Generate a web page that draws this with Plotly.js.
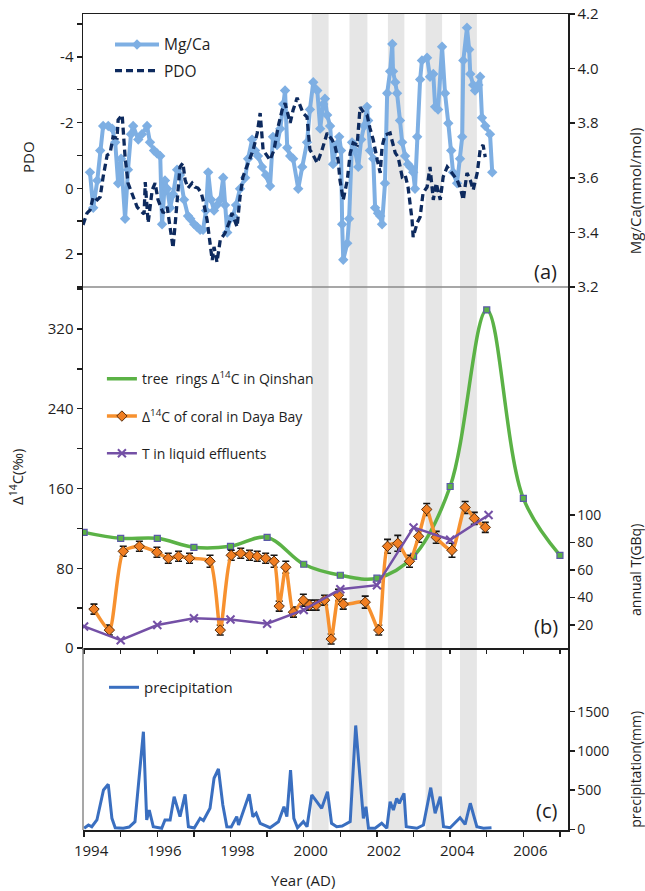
<!DOCTYPE html>
<html><head><meta charset="utf-8">
<script src="https://cdn.plot.ly/plotly-3.0.1.min.js"></script>
<style>html,body{margin:0;padding:0;background:#fff}#chart{width:645px;height:891px}</style>
</head><body><div id="chart"></div>
<script>
// ---------- data ----------
const mgcaYear = [1994.16,1994.25,1994.36,1994.44,1994.52,1994.66,1994.77,1994.85,1994.93,1995.01,1995.12,1995.20,1995.28,1995.34,1995.48,1995.58,1995.72,1995.80,1995.91,1995.99,1996.08,1996.13,1996.21,1996.27,1996.35,1996.43,1996.54,1996.62,1996.73,1996.84,1996.90,1997.01,1997.09,1997.17,1997.25,1997.33,1997.39,1997.47,1997.55,1997.63,1997.72,1997.80,1997.85,1997.91,1997.99,1998.07,1998.15,1998.26,1998.40,1998.48,1998.59,1998.67,1998.75,1998.86,1998.97,1999.08,1999.16,1999.27,1999.36,1999.44,1999.49,1999.55,1999.63,1999.71,1999.85,1999.96,2000.09,2000.17,2000.26,2000.37,2000.45,2000.53,2000.58,2000.64,2000.72,2000.80,2000.89,2000.97,2001.02,2001.05,2001.08,2001.19,2001.24,2001.32,2001.40,2001.49,2001.57,2001.65,2001.73,2001.76,2001.81,2001.90,2001.95,2002.03,2002.09,2002.14,2002.22,2002.28,2002.36,2002.42,2002.44,2002.50,2002.55,2002.63,2002.69,2002.77,2002.85,2002.91,2002.99,2003.04,2003.10,2003.18,2003.23,2003.37,2003.45,2003.54,2003.59,2003.67,2003.78,2003.86,2003.95,2004.03,2004.08,2004.19,2004.27,2004.33,2004.36,2004.46,2004.52,2004.55,2004.63,2004.68,2004.77,2004.82,2004.87,2004.96,2005.09,2005.15];
const mgcaValue = [3.62,3.49,3.59,3.70,3.79,3.79,3.78,3.73,3.58,3.67,3.45,3.63,3.76,3.79,3.74,3.76,3.79,3.73,3.70,3.69,3.68,3.43,3.59,3.56,3.49,3.54,3.63,3.61,3.52,3.46,3.45,3.43,3.42,3.41,3.41,3.48,3.62,3.52,3.48,3.50,3.52,3.60,3.50,3.40,3.45,3.46,3.50,3.56,3.60,3.67,3.74,3.70,3.68,3.64,3.61,3.57,3.75,3.72,3.78,3.87,3.92,3.71,3.68,3.67,3.56,3.64,3.73,3.85,3.95,3.92,3.78,3.87,3.89,3.83,3.79,3.65,3.72,3.75,3.70,3.43,3.30,3.36,3.45,3.73,3.70,3.64,3.74,3.79,3.86,3.81,3.70,3.67,3.49,3.47,3.46,3.43,3.58,3.91,3.99,4.09,3.99,3.95,3.91,3.81,3.73,3.68,3.65,3.64,3.62,3.56,3.75,3.96,4.03,4.04,3.97,3.98,3.86,3.85,4.08,3.91,3.80,3.70,3.62,3.58,3.67,3.75,4.03,4.15,4.07,3.98,3.94,3.92,3.94,3.97,3.82,3.79,3.76,3.62];

const pdoYear = [1993.97,1994.08,1994.16,1994.25,1994.36,1994.44,1994.52,1994.63,1994.71,1994.79,1994.90,1994.93,1995.04,1995.12,1995.20,1995.31,1995.45,1995.58,1995.64,1995.67,1995.75,1995.86,1995.94,1996.02,1996.16,1996.27,1996.35,1996.43,1996.51,1996.62,1996.70,1996.76,1996.84,1996.95,1997.03,1997.11,1997.20,1997.25,1997.36,1997.44,1997.50,1997.55,1997.63,1997.72,1997.85,1997.99,1998.04,1998.18,1998.26,1998.34,1998.48,1998.62,1998.73,1998.81,1998.89,1999.00,1999.08,1999.19,1999.30,1999.41,1999.49,1999.63,1999.71,1999.82,1999.90,1999.98,2000.09,2000.17,2000.23,2000.37,2000.50,2000.64,2000.78,2000.86,2000.94,2000.99,2001.08,2001.19,2001.27,2001.35,2001.46,2001.54,2001.65,2001.73,2001.81,2001.90,2002.01,2002.09,2002.14,2002.22,2002.36,2002.50,2002.58,2002.69,2002.77,2002.85,2002.96,2002.99,2003.10,2003.18,2003.26,2003.37,2003.45,2003.54,2003.62,2003.73,2003.81,2003.92,2004.05,2004.19,2004.27,2004.36,2004.46,2004.55,2004.63,2004.74,2004.82,2004.90,2004.96];
const pdoValue = [1.11,0.75,0.66,0.26,0.35,0.26,-0.35,-1.01,-1.07,-1.56,-1.53,-2.08,-2.23,-0.95,-0.16,0.14,0.57,0.72,0.78,-0.19,1.05,0.05,-0.16,0.35,0.75,0.57,1.17,1.81,0.81,-0.65,-0.77,-0.25,-0.01,-0.16,-0.04,-0.01,0.14,0.35,0.96,1.57,2.18,1.78,2.24,1.57,1.36,0.96,0.75,1.17,0.26,-0.35,-0.77,-1.17,-1.68,-2.29,-1.17,-1.01,-0.86,-1.17,-1.87,-2.38,-2.59,-1.99,-2.38,-2.75,-2.53,-2.29,-2.17,-1.17,-1.07,-0.77,-1.17,-1.68,-1.47,-1.26,-0.86,-0.25,0.35,-0.25,-1.07,-1.38,-1.32,-2.47,-2.29,-2.23,-1.83,-1.47,-0.86,-0.47,-1.26,-1.62,-1.68,-1.08,-0.95,-0.35,-0.41,-0.04,0.96,1.48,1.05,0.87,0.14,-0.04,-0.65,0.35,-0.16,0.35,-0.35,-0.65,-0.47,-0.25,-0.04,0.35,-0.47,-0.25,0.05,-0.47,-1.17,-1.32,-0.95];

const treeYear = [1994,1995,1996,1997,1998,1999,2000,2001,2002,2003,2004,2005,2006,2007];
const treeValue = [116,110,110,101,102,111,84,73,70,92,162,339,150,93];

const coralYear = [1994.27,1994.69,1995.07,1995.51,1995.99,1996.30,1996.58,1996.88,1997.44,1997.72,1998.02,1998.28,1998.52,1998.73,1998.96,1999.19,1999.33,1999.51,1999.72,1999.99,2000.16,2000.34,2000.57,2000.75,2000.95,2001.08,2001.68,2002.05,2002.29,2002.57,2002.89,2003.14,2003.36,2003.62,2004.05,2004.41,2004.66,2004.96];
const coralValue = [39,18,97,102,96,90,92,90,87,18,93,95,93,92,90,87,42,81,36,48,43,43,48,9,53,44,46,18,102,105,87,112,139,111,98,141,130,121];
const coralError = [5,5,5,5,5,5,5,5,6,5,5,5,5,5,5,6,5,6,5,6,5,5,5,5,6,5,6,5,7,8,6,6,6,6,7,6,6,5];

const tritiumYear = [1994,1995,1996,1997,1998,1999,2000,2001,2002,2003,2004,2005.05];
const tritiumValue = [19,9,20,25,24,21,31,46,49,91,82,100];

const precipYear = [1994.00,1994.12,1994.21,1994.35,1994.53,1994.66,1994.76,1994.85,1995.07,1995.23,1995.39,1995.62,1995.71,1995.78,1995.89,1996.12,1996.21,1996.35,1996.46,1996.62,1996.76,1996.85,1997.01,1997.17,1997.26,1997.44,1997.55,1997.67,1997.79,1997.90,1998.02,1998.17,1998.22,1998.35,1998.51,1998.61,1998.70,1998.81,1999.08,1999.31,1999.46,1999.54,1999.64,1999.73,1999.83,1999.99,2000.09,2000.22,2000.49,2000.65,2000.76,2000.90,2001.05,2001.27,2001.42,2001.63,2001.70,2001.77,2001.95,2002.13,2002.27,2002.36,2002.45,2002.54,2002.61,2002.74,2002.80,2003.09,2003.27,2003.47,2003.59,2003.73,2003.82,2004.00,2004.27,2004.41,2004.55,2004.73,2004.91,2005.13];
const precipValue = [13,55,33,119,501,574,140,20,13,29,97,1245,119,246,33,13,119,119,416,161,446,33,17,140,112,268,651,769,310,33,29,161,55,224,446,161,204,77,20,97,288,161,756,140,20,97,33,438,268,480,77,33,42,97,1324,140,288,13,13,77,13,352,246,395,332,459,33,13,55,531,204,416,33,20,148,64,332,33,13,20];

const bandStart = [2000.22,2001.25,2002.30,2003.33,2004.27];
const bandEnd   = [2000.68,2001.74,2002.75,2003.78,2004.73];

const yearTicks = [1994,1995,1996,1997,1998,1999,2000,2001,2002,2003,2004,2005,2006,2007];
const yearLabels = ['1994','','1996','','1998','','2000','','2002','','2004','','2006',''];
const pdoTicks = [-5,-4,-3,-2,-1,0,1,2,3];
const pdoLabels = ['','-4','','-2','','0','','2',''];
const d14Ticks = [0,40,80,120,160,200,240,280,320,360];
const d14Labels = ['0','','80','','160','','240','','320',''];
const tritiumTicks = [20,40,60,80,100];
const precipTicks = [0,500,1000,1500];

// ---------- styling ----------
const FONT = 'Open Sans, Noto Sans, sans-serif';
const INK = '#1e1e1e';
const XR = [1993.97, 2007.22];
const dA = [0.6654, 1], dB = [0.2230, 0.6654], dC = [0, 0.2230];

const traces = [
  {x: mgcaYear, y: mgcaValue, xaxis:'x3', yaxis:'y3', name:'Mg/Ca', mode:'lines+markers',
   line:{color:'#7eafe3', width:4}, marker:{symbol:'diamond', size:8, color:'#7eafe3'},
   legend:'legend', legendgroup:'g1'},
  {x: pdoYear, y: pdoValue, xaxis:'x3', yaxis:'y4', name:'PDO', mode:'lines',
   line:{color:'#0d2a5e', width:3.3, dash:'7px,4px'}, legend:'legend', legendgroup:'g2'},

  {x: treeYear, y: treeValue, xaxis:'x2', yaxis:'y2', name:'tree  rings Δ<sup>14</sup>C in Qinshan', mode:'lines',
   line:{color:'#5bb246', width:3.5, shape:'spline', smoothing:1}, legend:'legend2', legendgroup:'h1'},
  {x: treeYear, y: treeValue, xaxis:'x2', yaxis:'y2', mode:'markers', showlegend:false,
   marker:{symbol:'square', size:6, color:'#5bb246', line:{color:'#5b5aa8', width:1.2}}},
  {x: coralYear, y: coralValue, xaxis:'x2', yaxis:'y2', name:'Δ<sup>14</sup>C of coral in Daya Bay', mode:'lines+markers',
   line:{color:'#f7912f', width:3.5, shape:'spline', smoothing:0.6},
   marker:{symbol:'diamond', size:8, color:'#f07e22', line:{color:'#5a2e0c', width:1}},
   error_y:{type:'data', array: coralError, visible:true, color:'#151515', thickness:1.6, width:3.5},
   legend:'legend2', legendgroup:'h2'},
  {x: tritiumYear, y: tritiumValue, xaxis:'x2', yaxis:'y5', name:'T in liquid effluents', mode:'lines+markers',
   line:{color:'#7450a6', width:2.5},
   marker:{symbol:'x-thin', size:8, color:'#7450a6', line:{color:'#7450a6', width:2}},
   legend:'legend2', legendgroup:'h3'},

  {x: precipYear, y: precipValue, xaxis:'x', yaxis:'y', name:'precipitation', mode:'lines',
   line:{color:'#3a6fc0', width:3}, legend:'legend3'}
];

const shapes = bandStart.map((s, i) => ({
  type:'rect', xref:'x', yref:'paper', x0:s, x1:bandEnd[i], y0:0, y1:1,
  fillcolor:'#e6e6e6', line:{width:0}, layer:'below'
}));
shapes.push({type:'line', xref:'paper', yref:'paper', x0:0, x1:1, y0:dA[0], y1:dA[0], line:{color:'#8a8a8a', width:1.5}});
shapes.push({type:'line', xref:'paper', yref:'paper', x0:0, x1:0, y0:0, y1:dC[1], line:{color:'#8a8a8a', width:1.5}});

const axBase = {showgrid:false, zeroline:false, showline:true, linecolor:INK, linewidth:1.5,
  ticks:'outside', ticklen:5, tickwidth:1.5, tickcolor:INK, tickfont:{size:15, color:INK, family:FONT}};

function ann(text, x, y, size, angle) {
  return {text:text, xref:'paper', yref:'paper', x:x, y:y, xanchor:'center', yanchor:'middle',
    textangle:angle || 0, showarrow:false, font:{size:size, color:INK, family:FONT}};
}

const layout = {
  width:645, height:891, margin:{l:83, r:77, t:14, b:61},
  paper_bgcolor:'#ffffff', plot_bgcolor:'rgba(0,0,0,0)',
  font:{family:FONT, size:15, color:INK},
  showlegend:true,
  xaxis: Object.assign({}, axBase, {domain:[0,1], anchor:'y', range:XR, tickmode:'array',
    tickvals:yearTicks, ticktext:yearLabels, ticklabelshift:7, ticklabelstandoff:1}),
  xaxis2: Object.assign({}, axBase, {matches:'x', anchor:'y2', range:XR, tickmode:'array', tickvals:yearTicks,
    showticklabels:false, linewidth:2, ticklen:4}),
  xaxis3: Object.assign({}, axBase, {matches:'x', anchor:'y3', side:'top', range:XR, ticks:'', showticklabels:false}),
  yaxis: Object.assign({}, axBase, {domain:dC, anchor:'x', side:'right', range:[-9, 2312],
    tickmode:'array', tickvals:precipTicks, tickfont:{size:14, color:INK, family:FONT}}),
  yaxis2: Object.assign({}, axBase, {domain:dB, anchor:'x2', side:'left', range:[0, 362],
    tickmode:'array', tickvals:d14Ticks, ticktext:d14Labels}),
  yaxis5: Object.assign({}, axBase, {overlaying:'y2', anchor:'x2', side:'right', range:[3.3, 265.8],
    tickmode:'array', tickvals:tritiumTicks, tickfont:{size:14, color:INK, family:FONT}}),
  yaxis3: Object.assign({}, axBase, {domain:dA, anchor:'x3', side:'right', range:[3.2, 4.2],
    tickmode:'linear', tick0:3.2, dtick:0.2, tickformat:'.1f'}),
  yaxis4: Object.assign({}, axBase, {overlaying:'y3', anchor:'x3', side:'left', range:[3.0, -5.3],
    tickmode:'array', tickvals:pdoTicks, ticktext:pdoLabels}),
  shapes: shapes,
  legend: {x:0.0557, y:0.983, xanchor:'left', yanchor:'top', bgcolor:'rgba(0,0,0,0)', borderwidth:0,
    itemwidth:44, traceorder:'grouped', tracegroupgap:3, font:{size:15.5, color:INK, family:FONT}},
  legend2: {x:0.039, y:0.572, xanchor:'left', yanchor:'top', bgcolor:'rgba(0,0,0,0)', borderwidth:0,
    itemwidth:30, traceorder:'grouped', tracegroupgap:16, font:{size:14, color:INK, family:FONT}},
  legend3: {x:0.0433, y:0.1948, xanchor:'left', yanchor:'top', bgcolor:'rgba(0,0,0,0)', borderwidth:0,
    itemwidth:30, font:{size:15, color:INK, family:FONT}},
  annotations: [
    ann('PDO', -0.1134, 0.8248, 15, -90),
    ann('Δ<sup>14</sup>C(‰)', -0.136, 0.4326, 15, -90),
    ann('Mg/Ca(mmol/mol)', 1.138, 0.784, 15, -90),
    ann('annual T(GBq)', 1.138, 0.3186, 14, -90),
    ann('precipitation(mm)', 1.14, 0.0748, 14, -90),
    ann('Year (AD)', 0.4536, -0.0613, 15, 0),
    ann('(a)', 0.9546, 0.685, 20, 0),
    ann('(b)', 0.9546, 0.2488, 20, 0),
    ann('(c)', 0.9566, 0.0245, 20, 0)
  ]
};

Plotly.newPlot('chart', traces, layout, {displayModeBar:false, staticPlot:true});
</script>
</body></html>
